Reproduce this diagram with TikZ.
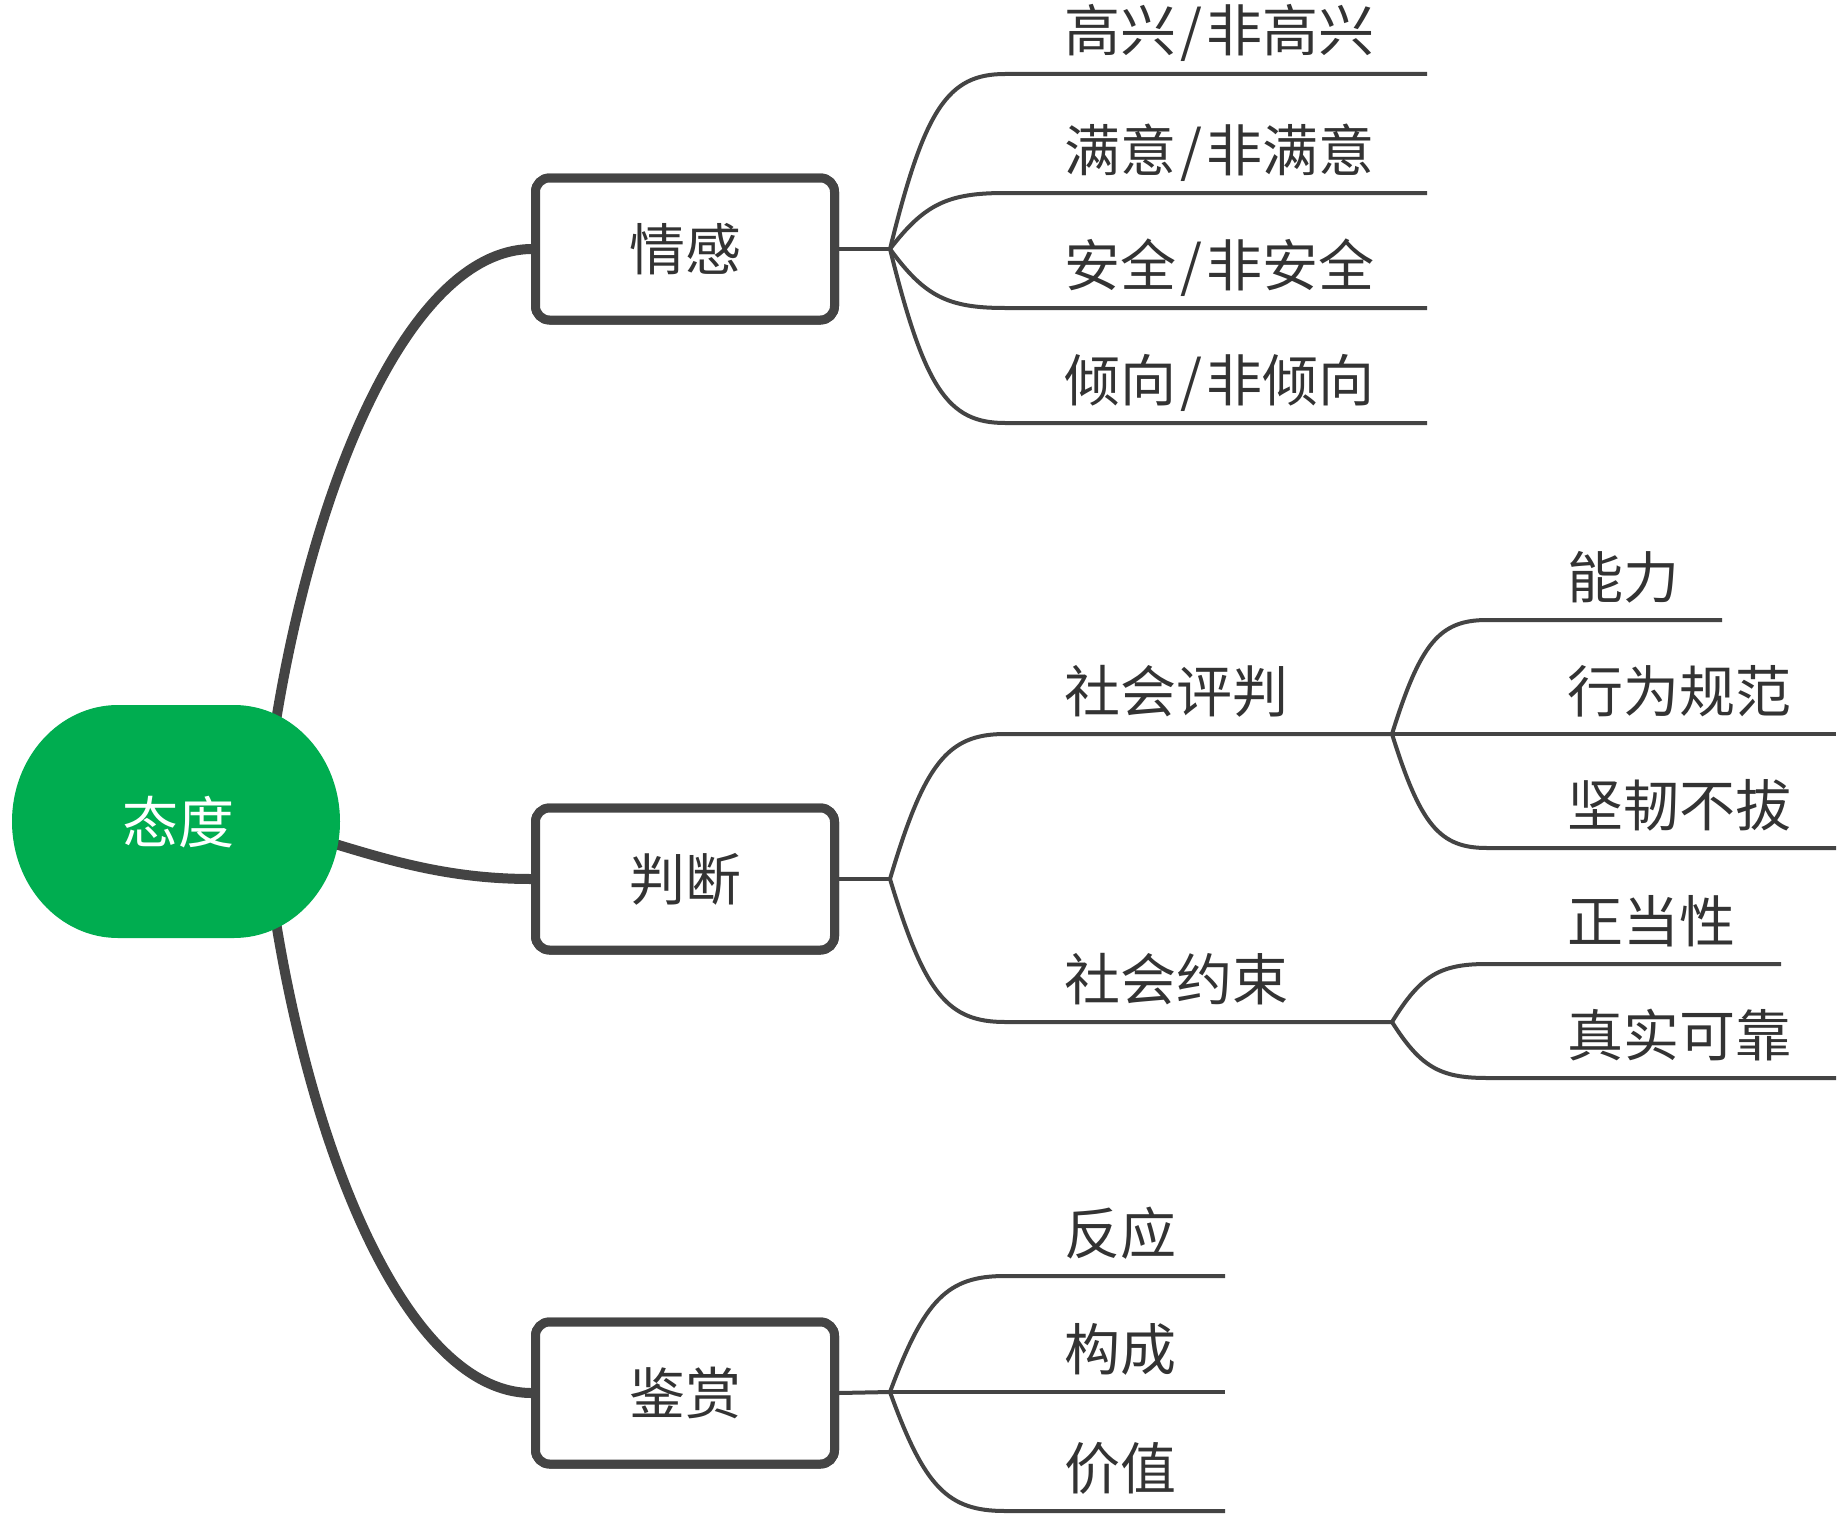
\documentclass[tikz,border=0pt]{standalone}
\usepackage{fontspec}
\newfontfamily\cjk{Noto Sans CJK SC}
\usetikzlibrary{calc}
\definecolor{ink}{HTML}{444444}
\definecolor{txt}{HTML}{333333}
\definecolor{rootgreen}{HTML}{00AD50}
\tikzset{
  cjkfont/.style={font=\cjk\fontsize{56}{56}\selectfont},
  thickcurve/.style={draw=ink, line width=10pt},
  thinline/.style={draw=ink, line width=4pt},
  catbox/.style={draw=ink, line width=9pt, rounded corners=14pt, fill=white,
    minimum width=299pt, minimum height=142pt, inner sep=0pt, cjkfont, text=txt},
  leaflabel/.style={anchor=base west, inner sep=0pt, cjkfont, text=txt},
  twig/.style={to path={let \p1=(\tikztostart), \p2=(\tikztotarget) in
    .. controls ({\x1+0.3*(\x2-\x1)},{\y1+0.8*(\y2-\y1)}) and ({\x1+0.5*(\x2-\x1)},\y2) .. (\tikztotarget)}}
}
\newcommand\myslash{\kern4pt/\kern4pt}
\begin{document}
\begin{tikzpicture}[x=1pt,y=-1pt]
\useasboundingbox (0,0) rectangle (1848,1520);
\fill[white] (0,0) rectangle (1848,1520);

% category boxes (defined first so they can be referenced)
\coordinate (hubT) at (265,800);
\coordinate (hubM) at (255,821);
\coordinate (hubB) at (265,843);
\path (685,249) node[catbox] (A) {情感};
\path (685,879) node[catbox] (B) {判断};
\path (685,1393) node[catbox] (C) {鉴赏};

% thick connectors
\draw[thickcurve] (hubT) .. controls (297,520) and (400,251) .. (A.west);
\draw[thickcurve] (hubM) .. controls (350,845) and (420,879) .. (B.west);
\draw[thickcurve] (hubB) .. controls (297,1123) and (400,1392) .. (C.west);

% root
\fill[rootgreen] (118,705) -- (234,705)
  arc[start angle=90,end angle=0,x radius=106pt,y radius=116.5pt]
  arc[start angle=0,end angle=-90,x radius=106pt,y radius=116.5pt] -- (118,938)
  arc[start angle=270,end angle=180,x radius=106pt,y radius=116.5pt]
  arc[start angle=180,end angle=90,x radius=106pt,y radius=116.5pt] -- cycle;
\node[cjkfont, text=white, inner sep=0pt] (root) at (178,822) {态度};

% redraw boxes on top of curve ends
\path (685,249) node[catbox] (A) {情感};
\path (685,879) node[catbox] (B) {判断};
\path (685,1393) node[catbox] (C) {鉴赏};

% branch points
\coordinate (bA) at (890,249);
\coordinate (bB) at (890,879);
\coordinate (bC) at (890,1392);
\coordinate (bB1) at (1392,734);
\coordinate (bB2) at (1392,1022);

% corners and ends
\coordinate (cA1) at (1005,74);   \coordinate (eA1) at (1427,74);
\coordinate (cA2) at (1005,193);  \coordinate (eA2) at (1427,193);
\coordinate (cA3) at (1005,308);  \coordinate (eA3) at (1427,308);
\coordinate (cA4) at (1005,423);  \coordinate (eA4) at (1427,423);
\coordinate (cB1) at (1005,734);
\coordinate (cB2) at (1005,1022);
\coordinate (cB11) at (1487,620); \coordinate (eB11) at (1722,620);
\coordinate (eB12) at (1836,734);
\coordinate (cB13) at (1487,848); \coordinate (eB13) at (1836,848);
\coordinate (cB21) at (1487,964); \coordinate (eB21) at (1781,964);
\coordinate (cB22) at (1487,1078);\coordinate (eB22) at (1836,1078);
\coordinate (cC1) at (1005,1276); \coordinate (eC1) at (1225,1276);
\coordinate (eC2) at (1225,1392);
\coordinate (cC3) at (1005,1511); \coordinate (eC3) at (1225,1511);

% stubs
\draw[thinline] (A.east) -- (bA);
\draw[thinline] (B.east) -- (bB);
\draw[thinline] (C.east) -- (bC);

% twigs
\draw[thinline] (bA) to[twig] (cA1) -- (eA1);
\draw[thinline] (bA) to[twig] (cA2) -- (eA2);
\draw[thinline] (bA) to[twig] (cA3) -- (eA3);
\draw[thinline] (bA) to[twig] (cA4) -- (eA4);
\draw[thinline] (bB) to[twig] (cB1) -- (bB1);
\draw[thinline] (bB) to[twig] (cB2) -- (bB2);
\draw[thinline] (bB1) to[twig] (cB11) -- (eB11);
\draw[thinline] (bB1) -- (eB12);
\draw[thinline] (bB1) to[twig] (cB13) -- (eB13);
\draw[thinline] (bB2) to[twig] (cB21) -- (eB21);
\draw[thinline] (bB2) to[twig] (cB22) -- (eB22);
\draw[thinline] (bC) to[twig] (cC1) -- (eC1);
\draw[thinline] (bC) -- (eC2);
\draw[thinline] (bC) to[twig] (cC3) -- (eC3);

% labels
\node[leaflabel] (tA1) at (1064,52) {高兴\myslash 非高兴};
\node[leaflabel] (tA2) at (1064,171) {满意\myslash 非满意};
\node[leaflabel] (tA3) at (1064,286) {安全\myslash 非安全};
\node[leaflabel] (tA4) at (1064,401) {倾向\myslash 非倾向};
\node[leaflabel] (tB1) at (1064,712) {社会评判};
\node[leaflabel] (tB2) at (1064,1000) {社会约束};
\node[leaflabel] (tB11) at (1567,598) {能力};
\node[leaflabel] (tB12) at (1567,712) {行为规范};
\node[leaflabel] (tB13) at (1567,826) {坚韧不拔};
\node[leaflabel] (tB21) at (1567,942) {正当性};
\node[leaflabel] (tB22) at (1567,1056) {真实可靠};
\node[leaflabel] (tC1) at (1064,1254) {反应};
\node[leaflabel] (tC2) at (1064,1370) {构成};
\node[leaflabel] (tC3) at (1064,1489) {价值};
\end{tikzpicture}
\end{document}
